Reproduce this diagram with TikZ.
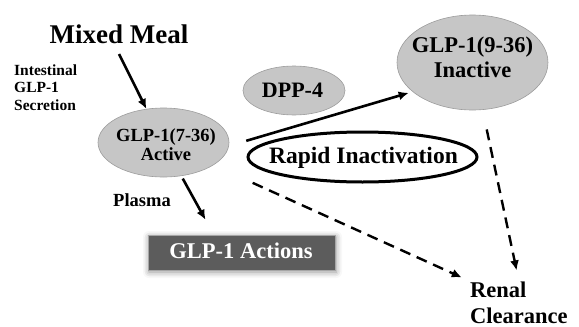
\documentclass[tikz,border=0pt]{standalone}
\usepackage{fontspec}
\setmainfont{Liberation Serif}
\usetikzlibrary{arrows.meta,shapes.geometric,shadows.blur}

\definecolor{blobfill}{HTML}{C6C6C6}
\definecolor{blobline}{HTML}{9C9C9C}
\definecolor{boxfill}{HTML}{5C5C5C}

\tikzset{
  lbl/.style={font=\bfseries, inner sep=0pt, text=black},
  blob/.style={ellipse, fill=blobfill, draw=blobline, line width=0.6pt, inner sep=0pt},
  flow/.style={line width=2.6pt, -{Latex[length=10pt,width=9pt]}},
  dflow/.style={line width=2.4pt, dash pattern=on 11pt off 7pt, -{Latex[length=10pt,width=9pt]}},
}

\begin{document}
\begin{tikzpicture}[x=1pt, y=-1pt]
\useasboundingbox (0,0) rectangle (579,327);

% ellipses
\node[blob, minimum width=131pt, minimum height=69pt] (act) at (163.5,142.5) {};
\node[blob, minimum width=102pt, minimum height=49pt] (dpp) at (294,90.5) {};
\node[blob, minimum width=151pt, minimum height=95pt] (inact) at (472.5,62.5) {};
\node[ellipse, draw=black, fill=white, line width=3pt, inner sep=0pt,
      minimum width=229pt, minimum height=50pt] (rapid) at (362.5,157) {};

% dark action box with soft shadow
\node[rectangle, fill=boxfill, draw=gray!70, line width=0.5pt,
      minimum width=187pt, minimum height=35pt, inner sep=0pt,
      blur shadow={shadow xshift=1pt, shadow yshift=-2pt, shadow blur radius=6pt, shadow opacity=45}]
      (actions) at (241.5,252.5) {};

% texts (multi-line labels are placed by the baseline of their last line)
\node[lbl, anchor=base, font=\bfseries\fontsize{27}{30}\selectfont] (meal) at (119,43) {Mixed Meal};
\node[lbl, anchor=base west, align=left, font=\bfseries\fontsize{15.5}{17.3}\selectfont] (secr) at (14,110)
  {Intestinal\\GLP-1\\Secretion};
\node[lbl, anchor=base, align=center, font=\bfseries\fontsize{18.5}{18.5}\selectfont] (acttxt) at (166,160)
  {GLP-1(7-36)\\Active};
\node[lbl, anchor=base, font=\bfseries\fontsize{22}{24}\selectfont] (dpptxt) at (292.5,97) {DPP-4};
\node[lbl, anchor=base, align=center, font=\bfseries\fontsize{22.5}{25}\selectfont] (inacttxt) at (472.5,77)
  {GLP-1(9-36)\\Inactive};
\node[lbl, anchor=base, font=\bfseries\fontsize{23.5}{26}\selectfont] (rapidtxt) at (363.5,163) {Rapid Inactivation};
\node[lbl, anchor=base west, font=\bfseries\fontsize{18.5}{20}\selectfont] (plasma) at (113,206) {Plasma};
\node[lbl, anchor=base, text=white, font=\bfseries\fontsize{22.5}{25}\selectfont] (acttitle) at (241,258) {GLP-1 Actions};
\node[lbl, anchor=base west, align=left, font=\bfseries\fontsize{22.5}{26}\selectfont] (renal) at (470,323)
  {Renal\\Clearance};

% connectors
\draw[flow] ([yshift=-11pt]meal.base) -- (act.117);
\draw[flow, shorten <=18pt, shorten >=4pt] (act.-3) -- (inact.206);
\draw[flow, shorten <=3pt] (act.-62) -- ([xshift=-36pt,yshift=15pt]actions.north);
\draw[dflow, shorten <=43pt, shorten >=9pt] (act) -- (renal.north west);
\draw[dflow, shorten <=20pt, shorten >=11pt] (inact) -- (renal.north);
\end{tikzpicture}
\end{document}
